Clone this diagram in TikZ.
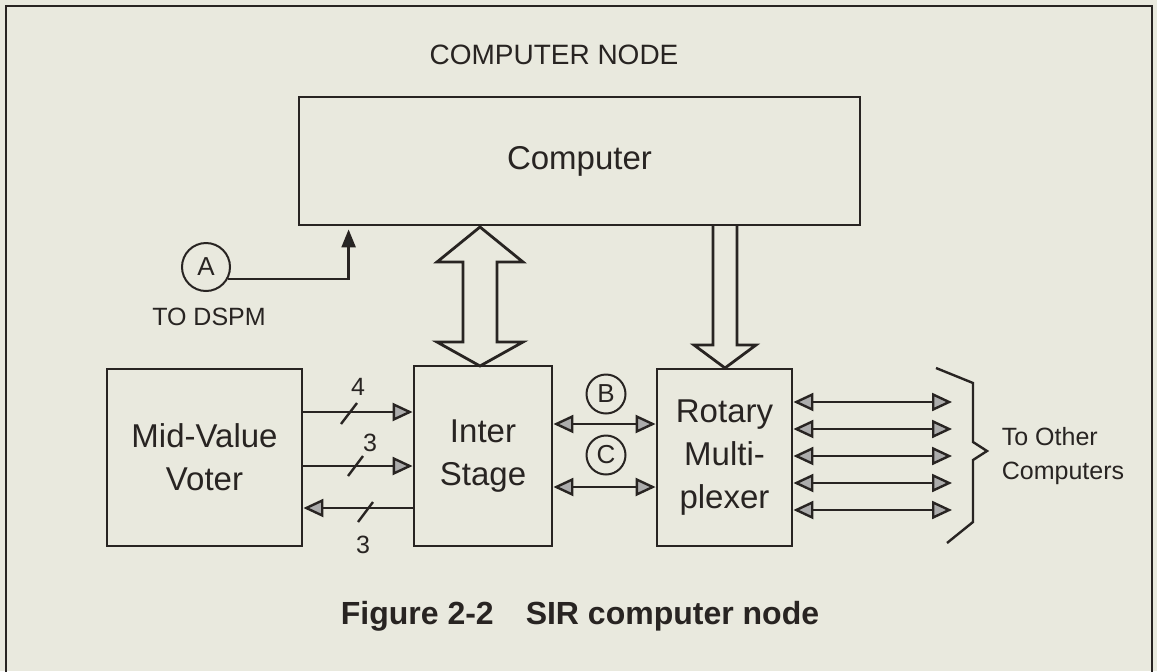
\documentclass[tikz,border=0pt]{standalone}
\usepackage{fontspec}
\setmainfont{Liberation Sans}
\usetikzlibrary{arrows.meta}
\definecolor{paper}{RGB}{233,233,222}
\definecolor{ink}{RGB}{40,36,34}

\begin{document}
\begin{tikzpicture}[x=0.5pt,y=-0.5pt,
  every node/.style={font=\fontsize{16.5}{21.5}\selectfont,text=ink},
  blk/.style={draw=ink,line width=1.4pt,align=center,inner sep=0pt},
  tag/.style={draw=ink,line width=1pt,circle,inner sep=0pt,
    font=\fontsize{13}{15}\selectfont},
  small/.style={font=\fontsize{12.5}{17}\selectfont},
  sig/.style={draw=ink,line width=1.2pt,
    -{Triangle[length=10pt,width=9pt,fill=gray!65]}},
  bus/.style={draw=ink,line width=1.2pt,
    {Triangle[length=10pt,width=9pt,fill=gray!65]}-{Triangle[length=10pt,width=9pt,fill=gray!65]}}]
  \path[use as bounding box,fill=paper] (0,0) rectangle (1157,671);
  \draw[ink,line width=1.4pt] (6,690) -- (6,6) -- (1152,6) -- (1152,690);
  \node (title) at (554,55) {\fontsize{14}{17}\selectfont COMPUTER NODE};
  \node[blk,minimum width=280.5pt,minimum height=64pt] (comp) at (579.5,161) {Computer};
  \node[blk,minimum width=97.5pt,minimum height=88.5pt] (voter) at (204.5,457.5) {Mid-Value\\Voter};
  \node[blk,minimum width=69pt,minimum height=90pt] (inter) at (483,456) {Inter\\Stage};
  \node[blk,minimum width=67.5pt,minimum height=88.5pt] (rotary) at (724.5,457.5) {Rotary\\Multi-\\plexer};
  \node[tag,minimum size=24pt] (A) at (206,267) {A};
  \node[small] (dspm) at (209,317) {TO DSPM};
  \draw[ink,line width=1.2pt,-{Triangle[length=9pt,width=7pt,fill=gray!30!black]}]
    (A.-28) -| ([xshift=25.5pt,yshift=-1.5pt]comp.south west);
  \draw[ink,line width=1.4pt,line join=miter]
    (480,227) -- (523,262) -- (497,262) -- (497,342) -- (523,342) -- (480,366)
    -- (437,342) -- (463,342) -- (463,262) -- (437,262) -- cycle;
  \draw[ink,line width=1.4pt,line join=miter]
    (713,225) -- (713,345) -- (694,345) -- (725,368) -- (756,345) -- (737,345) -- (737,225);
  \draw[sig] (voter.east |- 0,412) -- (inter.west |- 0,412);
  \draw[sig] (voter.east |- 0,466) -- (inter.west |- 0,466);
  \draw[sig] (inter.west |- 0,508) -- (voter.east |- 0,508);
  \draw[ink,line width=1.2pt] (341,424) -- (357,403);
  \draw[ink,line width=1.2pt] (348,476) -- (363,456);
  \draw[ink,line width=1.2pt] (358,522) -- (373,502);
  \node[small] (n4) at (358,387) {4};
  \node[small] (n3a) at (370,443) {3};
  \node[small] (n3b) at (363,545) {3};
  \draw[bus] (inter.east |- 0,424) -- (rotary.west |- 0,424);
  \draw[bus] (inter.east |- 0,487) -- (rotary.west |- 0,487);
  \node[tag,minimum size=19.5pt] (B) at (606,394) {B};
  \node[tag,minimum size=19.5pt] (C) at (606,455) {C};
  \foreach \yy in {402,429,456,483,510}
    \draw[bus] (rotary.east |- 0,\yy) -- (952,\yy);
  \draw[ink,line width=1.2pt] (936,368) -- (973,383) -- (973,442) -- (987,451)
    -- (973,460) -- (973,522) -- (947,543);
  \node[small,align=left] (others) at (1063,456) {To Other\\Computers};
  \node[font=\fontsize{16}{19}\bfseries\selectfont] (caption) at (580,616)
    {Figure 2-2\quad SIR computer node};
\end{tikzpicture}
\end{document}
